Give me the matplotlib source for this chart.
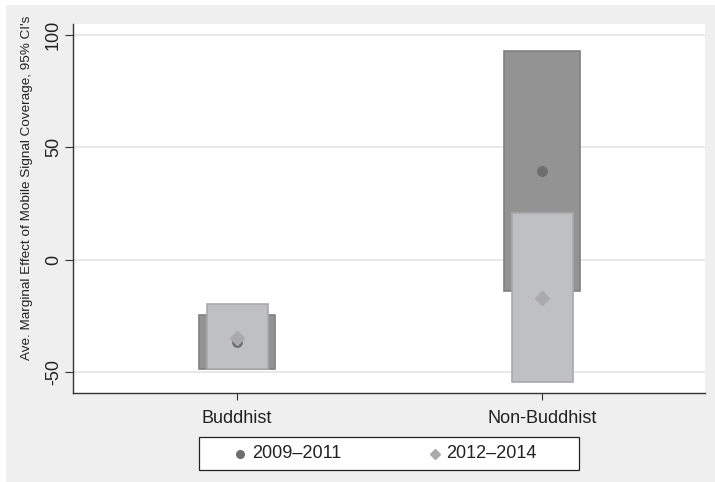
import matplotlib
matplotlib.use("Agg")
import matplotlib.pyplot as plt
from matplotlib.patches import Rectangle
from matplotlib.lines import Line2D

plt.rcParams['font.family'] = ['Liberation Sans', 'DejaVu Sans']

categories = ["Buddhist", "Non-Buddhist"]
series_names = ["2009\u20132011", "2012\u20132014"]
est_0911 = [-36.6, 39.3]
lo_0911 = [-48.6, -14.0]
hi_0911 = [-24.6, 92.7]
est_1214 = [-34.8, -17.1]
lo_1214 = [-48.5, -54.4]
hi_1214 = [-19.8, 20.6]
yticks = [-50, 0, 50, 100]

W, H = 715, 482
fig = plt.figure(figsize=(W / 100, H / 100), dpi=100, facecolor="white")
fig.patches.append(Rectangle((6 / W, 0), 1 - 6 / W, 1 - 5 / H, transform=fig.transFigure,
                             facecolor="#eeefee", edgecolor="none", zorder=-10))

ax = fig.add_axes([73 / W, 1 - 393 / H, (705 - 73) / W, (393 - 24) / H])
ax.set_facecolor("white")

xs = [1, 2]
dark_w, light_w = 0.25, 0.2
dark_fill, dark_edge = "#939394", "#808081"
light_fill, light_edge = "#bfc0c2", "#a9a9aa"
dot_col, dia_col = "#6e6e70", "#aaaaac"

for x, lo, hi in zip(xs, lo_0911, hi_0911):
    ax.add_patch(Rectangle((x - dark_w / 2, lo), dark_w, hi - lo, facecolor=dark_fill,
                           edgecolor=dark_edge, linewidth=1.2, zorder=2))
for x, lo, hi in zip(xs, lo_1214, hi_1214):
    ax.add_patch(Rectangle((x - light_w / 2, lo), light_w, hi - lo, facecolor=light_fill,
                           edgecolor=light_edge, linewidth=1.2, zorder=3))

ax.plot(xs, est_0911, linestyle="none", marker="o", markersize=6.8, color=dot_col, zorder=4)
ax.plot(xs, est_1214, linestyle="none", marker="D", markersize=6.8, color=dia_col, zorder=5)

ax.set_xlim(0.462, 2.534)
ax.set_ylim(-59.1, 104.66)
ax.set_yticks(yticks)
ax.set_yticklabels([str(v) for v in yticks], rotation=90, va="center", fontsize=13, color="#222222")
ax.set_xticks(xs)
ax.set_xticklabels(categories, fontsize=13, color="#222222")
ax.grid(axis="y", color="#e6e6e6", linewidth=1.3, zorder=0)
ax.set_axisbelow(True)
for s in ["top", "right"]:
    ax.spines[s].set_visible(False)
for s in ["left", "bottom"]:
    ax.spines[s].set_color("#333333")
    ax.spines[s].set_linewidth(1.0)
ax.tick_params(axis="y", direction="out", length=6, width=0.8, color="#333333", pad=2)
ax.tick_params(axis="x", direction="out", length=5, width=0.8, color="#333333", pad=7)

fig.text(27 / W, 1 - 188 / H, "Ave. Marginal Effect of Mobile Signal Coverage, 95% CI's",
         rotation=90, ha="center", va="center", fontsize=9.7, color="#222222")

# legend drawn in figure pixel coordinates
def fx(px):
    return px / W

def fy(py):
    return 1 - py / H

fig.patches.append(Rectangle((fx(199), fy(470)), (579 - 199) / W, (470 - 437) / H,
                             transform=fig.transFigure, facecolor="white",
                             edgecolor="#222222", linewidth=0.9, zorder=1))
ly = fy(453.5)
fig.add_artist(Line2D([fx(240)], [ly], transform=fig.transFigure, linestyle="none",
                      marker="o", markersize=5.5, color=dot_col, zorder=2))
fig.add_artist(Line2D([fx(435)], [ly], transform=fig.transFigure, linestyle="none",
                      marker="D", markersize=5.5, color=dia_col, zorder=2))
fig.text(fx(252), ly, series_names[0], ha="left", va="center", fontsize=13, color="#222222", zorder=3)
fig.text(fx(446), ly, series_names[1], ha="left", va="center", fontsize=13, color="#222222", zorder=3)

fig.savefig("out.png", dpi=100, facecolor=fig.get_facecolor())
